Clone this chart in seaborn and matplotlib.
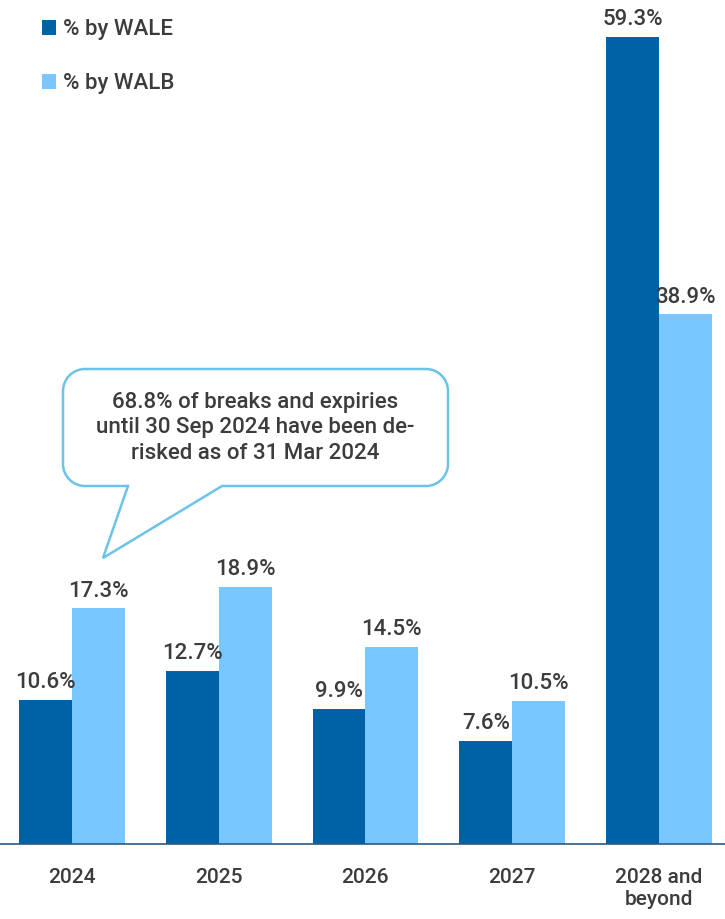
import matplotlib
matplotlib.use("Agg")
import matplotlib.pyplot as plt
from matplotlib.path import Path
from matplotlib.patches import PathPatch
import seaborn as sns
import pandas as pd

# Lease expiry profile
years = ["2024", "2025", "2026", "2027", "2028 and\nbeyond"]
wale = [10.6, 12.7, 9.9, 7.6, 59.3]
walb = [17.3, 18.9, 14.5, 10.5, 38.9]
series = ["% by WALE", "% by WALB"]
callout_text = "68.8% of breaks and expiries\nuntil 30 Sep 2024 have been de-\nrisked as of 31 Mar 2024"

DARK = "#0062A6"
LIGHT = "#79C7FF"
TEXT = "#3C3C3C"

df = pd.DataFrame({
    "year": years * 2,
    "series": [series[0]] * len(years) + [series[1]] * len(years),
    "value": wale + walb,
})

sns.set_theme(style="white")
plt.rcParams["font.family"] = ["Roboto", "DejaVu Sans"]

W, H = 725, 919
fig = plt.figure(figsize=(W / 100, H / 100), dpi=100)
ax = fig.add_axes([0, 75 / H, 1, 1 - 75 / H])

sns.barplot(data=df, x="year", y="value", hue="series", order=years,
            hue_order=series, palette=[DARK, LIGHT], width=0.72,
            saturation=1, linewidth=0, ax=ax)

ax.set_xlim(-0.49, 4.45)
ax.set_ylim(0, 62)
ax.set_xlabel("")
ax.set_ylabel("")
ax.set_yticks([])
for s in ["top", "right", "left"]:
    ax.spines[s].set_visible(False)
ax.spines["bottom"].set_color("#2B5A80")
ax.spines["bottom"].set_linewidth(1.2)
ax.tick_params(axis="x", length=0, pad=17, labelsize=15, labelcolor=TEXT)
for t in ax.get_xticklabels():
    t.set_fontweight("medium")

for cont in ax.containers:
    ax.bar_label(cont, labels=[f"{v:.1f}%" for v in cont.datavalues],
                 padding=5, fontsize=16, color=TEXT, fontweight="medium")

sns.move_legend(ax, "upper left", bbox_to_anchor=(23 / W, 1.0), title=None,
                frameon=False, fontsize=16, handlelength=0.65,
                handleheight=0.65, handletextpad=0.3, labelspacing=1.5,
                borderaxespad=0.45)
for t in ax.get_legend().get_texts():
    t.set_color(TEXT)
    t.set_fontweight("medium")


# Speech-bubble callout, built in pixel space (origin top-left)
def px(x, y):
    return (x / W, 1 - y / H)


L, R, T, B, r = 63, 448, 369, 486, 22
tail = [(222, B), (103, 558), (128, B)]
k = 0.55 * r
pts = [
    (L + r, T), (R - r, T),
    (R - r + k, T), (R, T + r - k), (R, T + r),
    (R, B - r),
    (R, B - r + k), (R - r + k, B), (R - r, B),
    tail[0], tail[1], tail[2],
    (L + r, B),
    (L + r - k, B), (L, B - r + k), (L, B - r),
    (L, T + r),
    (L, T + r - k), (L + r - k, T), (L + r, T),
    (L + r, T),
]
codes = [
    Path.MOVETO, Path.LINETO,
    Path.CURVE4, Path.CURVE4, Path.CURVE4,
    Path.LINETO,
    Path.CURVE4, Path.CURVE4, Path.CURVE4,
    Path.LINETO, Path.LINETO, Path.LINETO,
    Path.LINETO,
    Path.CURVE4, Path.CURVE4, Path.CURVE4,
    Path.LINETO,
    Path.CURVE4, Path.CURVE4, Path.CURVE4,
    Path.CLOSEPOLY,
]
bubble = Path([px(*p) for p in pts], codes)
fig.patches.append(PathPatch(bubble, transform=fig.transFigure,
                             facecolor="white", edgecolor="#6CC3E8",
                             linewidth=1.8))
fig.text(*px((L + R) / 2, 428), callout_text, ha="center", va="center",
         fontsize=16, color=TEXT, fontweight="medium", linespacing=1.3)

fig.savefig("out.png", dpi=100)
